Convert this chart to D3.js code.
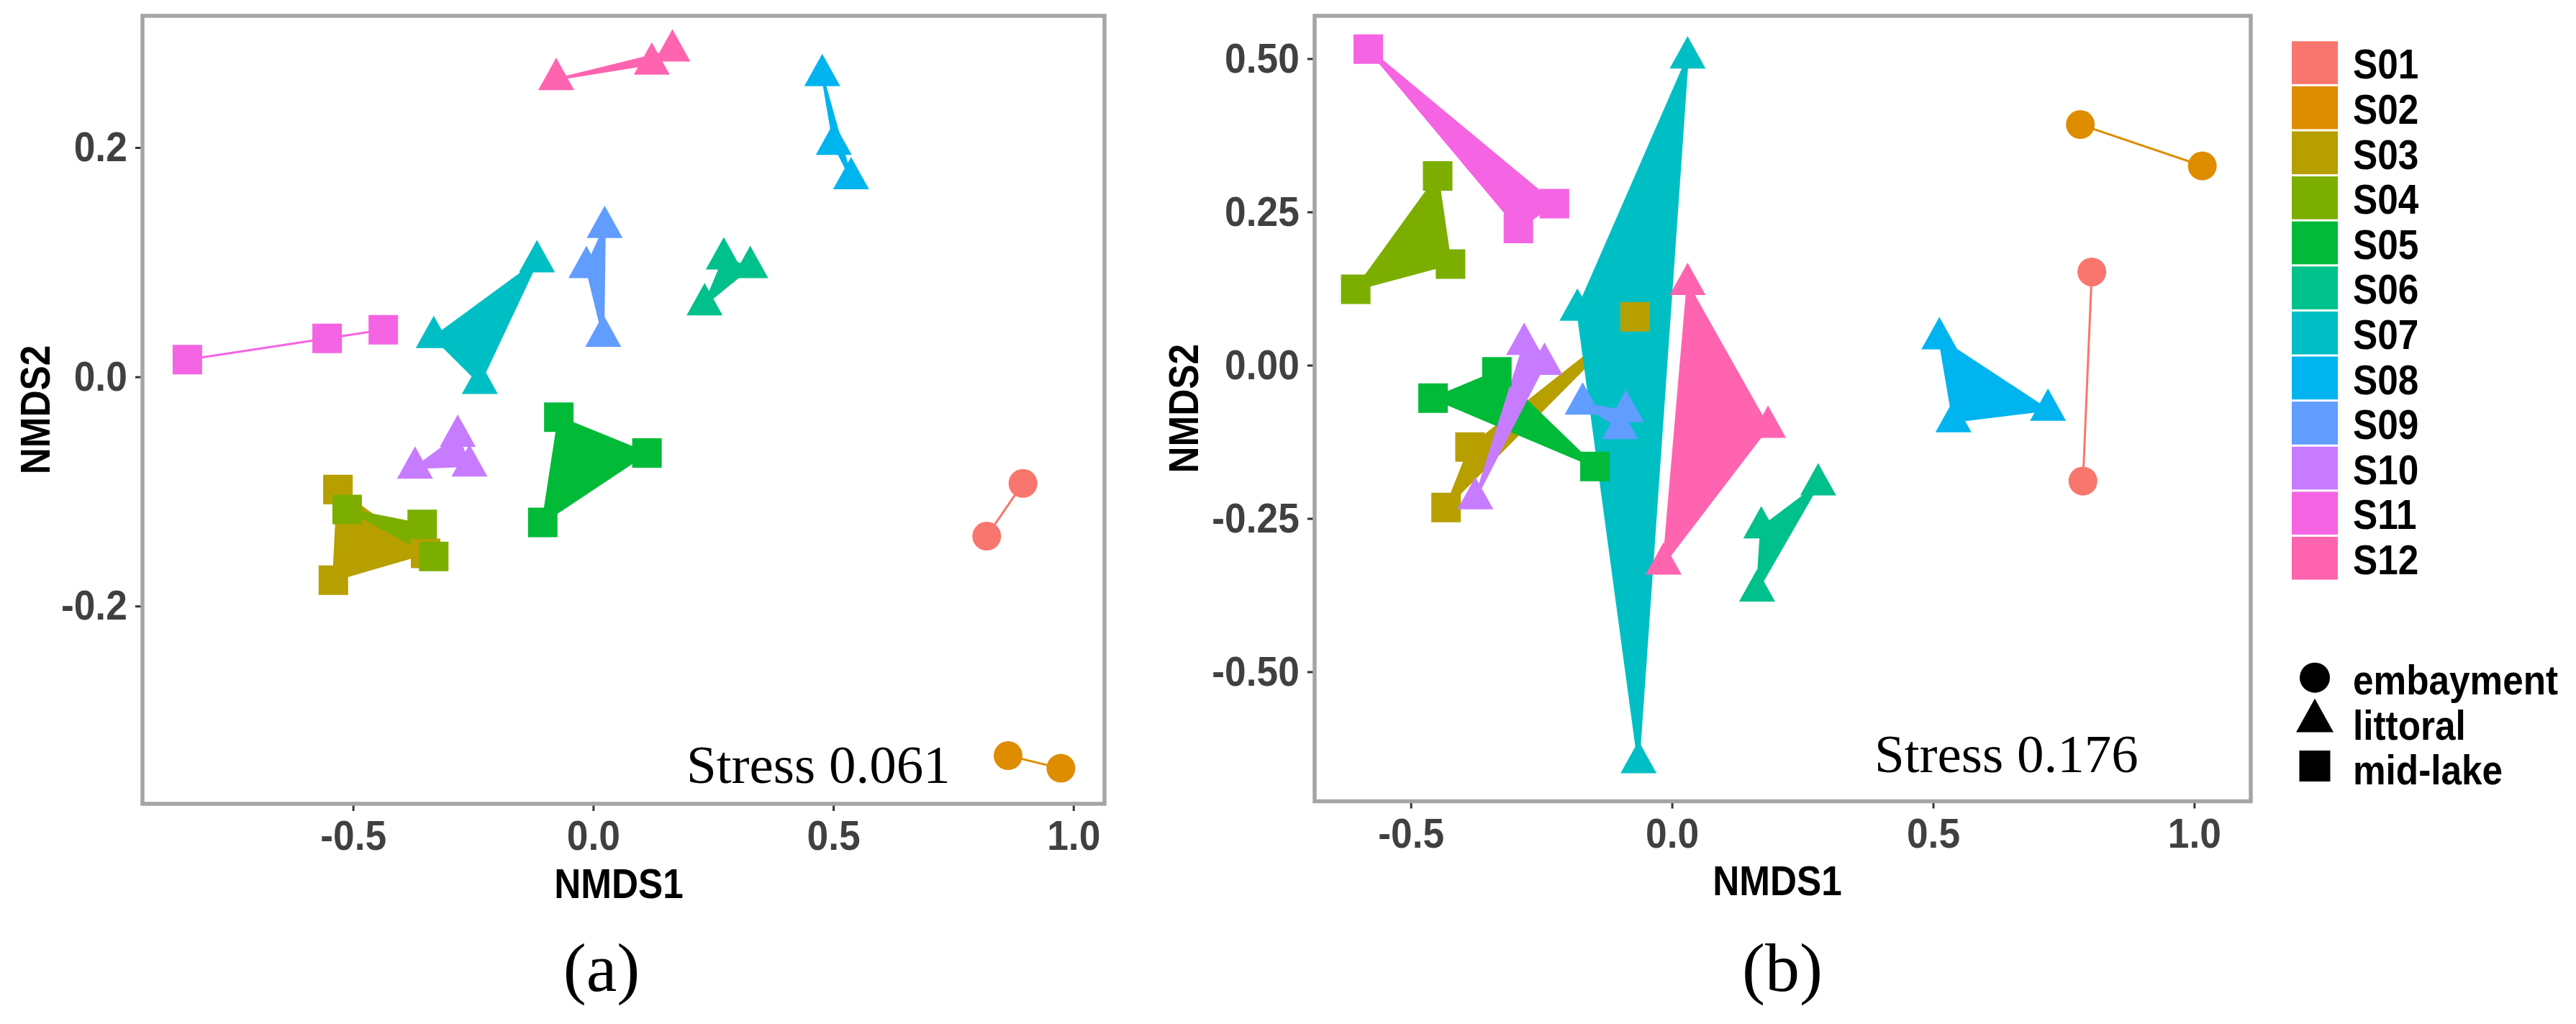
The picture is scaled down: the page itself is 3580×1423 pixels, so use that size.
<!DOCTYPE html>
<html><head><meta charset="utf-8">
<script src="https://cdn.jsdelivr.net/npm/d3@7"></script>
<style>html,body{margin:0;padding:0;background:#fff;}svg{display:block;}</style>
</head><body>
<svg id="chart" width="3580" height="1423"></svg>
<script>
// ---------------- data ----------------
const sites = ["S01","S02","S03","S04","S05","S06","S07","S08","S09","S10","S11","S12"];
const siteColors = ["#F8766D","#DE8C00","#B79F00","#7CAE00","#00BA38","#00C08B","#00BFC4","#00B4F0","#619CFF","#C77CFF","#F564E3","#FF64B0"];
const habitats = ["embayment","littoral","mid-lake"];
const siteHabitat = ["embayment","embayment","mid-lake","mid-lake","mid-lake","littoral","littoral","littoral","littoral","littoral","mid-lake","littoral"];

// panel (a): NMDS1 / NMDS2 per site (replicates)
const a_NMDS1 = [
  [0.8195, 0.895],
  [0.864, 0.974],
  [-0.5315, -0.541, -0.349],
  [-0.5123, -0.356, -0.332],
  [-0.0715, 0.112, -0.105],
  [0.272, 0.327, 0.232],
  [-0.117, -0.332, -0.236],
  [0.477, 0.501, 0.537],
  [0.024, -0.014, 0.021],
  [-0.371, -0.282, -0.2576],
  [-0.845, -0.554, -0.437],
  [-0.077, 0.122, 0.165]
];
const a_NMDS2 = [
  [-0.139, -0.093],
  [-0.3305, -0.3415],
  [-0.0983, -0.1774, -0.154],
  [-0.1158, -0.1288, -0.1567],
  [-0.0353, -0.0665, -0.127],
  [0.103, 0.0955, 0.063],
  [0.1005, 0.0345, -0.0055],
  [0.263, 0.203, 0.173],
  [0.1305, 0.0955, 0.0355],
  [-0.0795, -0.0517, -0.0776],
  [0.015, 0.0335, 0.041],
  [0.2595, 0.273, 0.2845]
];
// panel (b)
const b_NMDS1 = [
  [0.804, 0.787],
  [0.782, 1.0155],
  [-0.0705, -0.3867, -0.4325],
  [-0.4486, -0.424, -0.6055],
  [-0.3353, -0.4575, -0.1475],
  [0.28, 0.171, 0.163],
  [0.030, -0.181, -0.064],
  [0.512, 0.539, 0.72],
  [-0.171, -0.088, -0.0993],
  [-0.283, -0.244, -0.3764],
  [-0.5815, -0.294, -0.225],
  [0.030, 0.184, -0.016]
];
const b_NMDS2 = [
  [0.152, -0.189],
  [0.3925, 0.325],
  [0.079, -0.1334, -0.232],
  [0.3087, 0.165, 0.1238],
  [-0.0108, -0.0538, -0.1653],
  [-0.195, -0.265, -0.368],
  [0.5015, 0.090, -0.648],
  [0.0435, -0.092, -0.073],
  [-0.0632, -0.0753, -0.103],
  [0.0343, 0.0018, -0.2175],
  [0.5155, 0.223, 0.2635],
  [0.132, -0.101, -0.324]
];
const a_xTicks = [-0.5, 0.0, 0.5, 1.0];
const a_xTickLabels = ["-0.5","0.0","0.5","1.0"];
const a_yTicks = [-0.2, 0.0, 0.2];
const a_yTickLabels = ["-0.2","0.0","0.2"];
const b_xTicks = [-0.5, 0.0, 0.5, 1.0];
const b_xTickLabels = ["-0.5","0.0","0.5","1.0"];
const b_yTicks = [-0.5, -0.25, 0.0, 0.25, 0.5];
const b_yTickLabels = ["-0.50","-0.25","0.00","0.25","0.50"];
const stressA = "Stress 0.061";
const stressB = "Stress 0.176";

// ---------------- layout ----------------
const SANS = "'Liberation Sans', Arial, Helvetica, sans-serif";
const SERIF = "'Liberation Serif', 'Times New Roman', serif";
const svg = d3.select("#chart");

// triangle (R pch 17 like): size = width^2
const symbolTri = {
  draw(ctx, size) {
    const w = Math.sqrt(size), h = w * 0.9;
    ctx.moveTo(0, -2 * h / 3);
    ctx.lineTo(w / 2, h / 3);
    ctx.lineTo(-w / 2, h / 3);
    ctx.closePath();
  }
};

const panels = [
  { xs: a_NMDS1, ys: a_NMDS2, xDom: [-0.9385, 1.0648], yDom: [-0.3725, 0.3149],
    left: 198, right: 1535, top: 22, bottom: 1117,
    xTicks: a_xTicks, xLab: a_xTickLabels, yTicks: a_yTicks, yLab: a_yTickLabels,
    stress: stressA, stressX: 954, stressY: 1088, tag: "(a)", tagX: 836,
    xTitleX: 860, xTitleY: 1248, yTitleX: 69 },
  { xs: b_NMDS1, ys: b_NMDS2, xDom: [-0.6842, 1.1083], yDom: [-0.7113, 0.5698],
    left: 1827, right: 3128, top: 22, bottom: 1113.5,
    xTicks: b_xTicks, xLab: b_xTickLabels, yTicks: b_yTicks, yLab: b_yTickLabels,
    stress: stressB, stressX: 2605, stressY: 1073, tag: "(b)", tagX: 2477,
    xTitleX: 2470, xTitleY: 1244, yTitleX: 1665 }
];

const shapeOf = { "embayment": d3.symbolCircle, "littoral": symbolTri, "mid-lake": d3.symbolSquare };
const sizeOf = { "embayment": 1257, "littoral": 2500, "mid-lake": 1681 };

panels.forEach(p => {
  const x = d3.scaleLinear().domain(p.xDom).range([p.left, p.right]);
  const y = d3.scaleLinear().domain(p.yDom).range([p.bottom, p.top]);
  const g = svg.append("g");

  // polygons per site
  const line = d3.line().x(d => x(d[0])).y(d => y(d[1])).curve(d3.curveLinearClosed);
  sites.forEach((s, i) => {
    const pts = p.xs[i].map((v, k) => [v, p.ys[i][k]]);
    g.append("path").attr("d", line(pts))
      .attr("fill", siteColors[i]).attr("stroke", siteColors[i])
      .attr("stroke-width", 3).attr("stroke-linejoin", "round");
  });
  // points
  sites.forEach((s, i) => {
    const h = siteHabitat[i];
    const sym = d3.symbol().type(shapeOf[h]).size(sizeOf[h]);
    p.xs[i].forEach((v, k) => {
      g.append("path").attr("d", sym())
        .attr("transform", `translate(${x(v)},${y(p.ys[i][k])})`)
        .attr("fill", siteColors[i]);
    });
  });

  // axes
  const xAxis = d3.axisBottom(x).tickValues(p.xTicks).tickFormat((d, k) => p.xLab[k]).tickSize(10).tickPadding(13);
  const yAxis = d3.axisLeft(y).tickValues(p.yTicks).tickFormat((d, k) => p.yLab[k]).tickSize(10).tickPadding(13);
  [ [xAxis, `translate(0,${p.bottom})`], [yAxis, `translate(${p.left},0)`] ].forEach(([ax, tr]) => {
    const ag = g.append("g").attr("transform", tr).call(ax);
    ag.select(".domain").remove();
    ag.selectAll(".tick line").attr("stroke", "#333").attr("stroke-width", 3);
    ag.selectAll(".tick text").attr("font-family", SANS).attr("font-weight", "bold")
      .attr("font-size", 58).attr("fill", "#404040").attr("transform", "scale(0.92,1)");
  });

  // frame
  g.append("rect").attr("x", p.left).attr("y", p.top)
    .attr("width", p.right - p.left).attr("height", p.bottom - p.top)
    .attr("fill", "none").attr("stroke", "#a5a5a5").attr("stroke-width", 5.5);

  // titles
  g.append("text").attr("transform", `translate(${p.xTitleX},${p.xTitleY}) scale(0.9,1)`)
    .attr("text-anchor", "middle").attr("font-family", SANS).attr("font-weight", "bold")
    .attr("font-size", 57).attr("fill", "#000").text("NMDS1");
  g.append("text").attr("transform", `translate(${p.yTitleX},${(p.top + p.bottom) / 2}) rotate(-90) scale(0.9,1)`)
    .attr("text-anchor", "middle").attr("font-family", SANS).attr("font-weight", "bold")
    .attr("font-size", 57).attr("fill", "#000").text("NMDS2");

  // stress
  g.append("text").attr("x", p.stressX).attr("y", p.stressY)
    .attr("font-family", SERIF).attr("font-size", 75).attr("fill", "#000").text(p.stress);
  // panel tag
  g.append("text").attr("x", p.tagX).attr("y", 1377).attr("text-anchor", "middle")
    .attr("font-family", SERIF).attr("font-size", 96).attr("fill", "#000").text(p.tag);
});

// ---------------- legends ----------------
const lg = svg.append("g");
const keyX = 3185, keyW = 64, keyTop = 57.3, keyPitch = 62.6;
sites.forEach((s, i) => {
  lg.append("rect").attr("x", keyX).attr("y", keyTop + i * keyPitch)
    .attr("width", keyW).attr("height", keyPitch - 3).attr("fill", siteColors[i]);
  lg.append("text").attr("transform", `translate(3270,${keyTop + i * keyPitch + 52}) scale(0.9,1)`)
    .attr("font-family", SANS).attr("font-weight", "bold").attr("font-size", 57)
    .attr("fill", "#000").text(s);
});
const shapeLegendY = [941.7, 1002, 1064.5];
const shapeLegendBase = [965, 1028, 1090];
const legendSize = { "embayment": 1385, "littoral": 2704, "mid-lake": 1850 };
habitats.forEach((h, i) => {
  const sym = d3.symbol().type(shapeOf[h]).size(legendSize[h]);
  lg.append("path").attr("d", sym()).attr("transform", `translate(3217,${shapeLegendY[i]})`).attr("fill", "#000");
  lg.append("text").attr("transform", `translate(3270,${shapeLegendBase[i]}) scale(0.9,1)`)
    .attr("font-family", SANS).attr("font-weight", "bold").attr("font-size", 57)
    .attr("fill", "#000").text(h);
});
</script>
</body></html>
